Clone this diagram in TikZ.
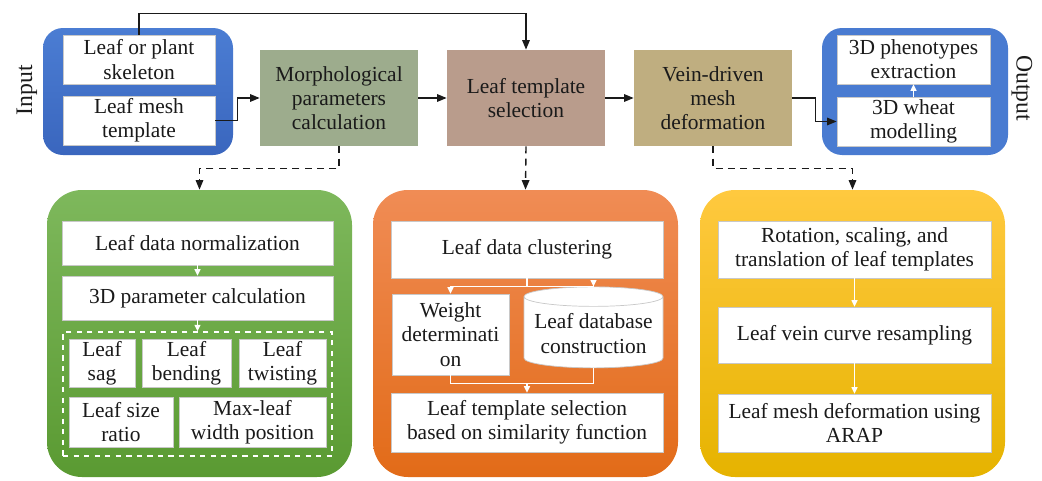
\documentclass[tikz,border=0pt]{standalone}
\usepackage{fontspec}
\setmainfont{LiberationSerif}[Extension=.ttf,UprightFont=*-Regular,BoldFont=*-Bold,ItalicFont=*-Italic]
\usetikzlibrary{arrows.meta,positioning,shapes.geometric}
\definecolor{iotop}{HTML}{4B7DD3}
\definecolor{iobot}{HTML}{3A66BE}
\definecolor{morphgreen}{HTML}{9DAC8D}
\definecolor{selbrown}{HTML}{B99C8C}
\definecolor{veinkhaki}{HTML}{BFAE80}
\definecolor{greentop}{HTML}{7EB85C}
\definecolor{greenbot}{HTML}{5A9A32}
\definecolor{orangetop}{HTML}{F08C55}
\definecolor{orangebot}{HTML}{E26B18}
\definecolor{goldtop}{HTML}{FFC93F}
\definecolor{goldbot}{HTML}{E6B300}
\definecolor{edgegray}{HTML}{C8C8C8}
\definecolor{ink}{HTML}{1A1A1A}
\newcommand{\boxfont}{\rmfamily\fontsize{12.2}{13.8}\selectfont}
\tikzset{
  stage/.style={
    align=center,
    inner sep=2pt,
    font=\boxfont,
    text=ink,
    minimum width=3.16cm,
    minimum height=1.92cm
  },
  wbox/.style={
    fill=white,
    draw=edgegray,
    line width=0.4pt,
    align=center,
    inner sep=1pt,
    font=\boxfont,
    text=ink
  },
  ioframe/.style={
    rounded corners=0.4cm,
    minimum height=2.54cm
  },
  panel/.style={
    rounded corners=0.7cm,
    minimum width=6.10cm,
    minimum height=5.74cm
  },
  sidelabel/.style={
    font=\rmfamily\fontsize{13.5}{15}\selectfont,
    text=ink,
    inner sep=0pt
  },
  arrow/.style={
    -{Triangle[length=1.9mm,width=1.5mm]},
    draw=ink,
    line width=0.8pt
  },
  dasharrow/.style={
    arrow,
    dash pattern=on 4pt off 3pt
  },
  wline/.style={
    draw=white,
    line width=0.7pt
  },
  warrow/.style={
    wline,
    -{Triangle[length=1.3mm,width=1.2mm]}
  }
}

\begin{document}
\begin{tikzpicture}[x=1cm,y=1cm]
  \useasboundingbox (0,0) rectangle (20.84,9.6);

  % input / output
  \node[ioframe, minimum width=3.80cm, top color=iotop, bottom color=iobot] (inputgroup) at (2.76,7.77) {};
  \node[wbox, minimum width=3.04cm, minimum height=0.98cm] (skel) at (2.78,8.41)
    {Leaf or plant\\skeleton};
  \node[wbox, minimum width=3.04cm, minimum height=0.98cm] (mesh) at (2.78,7.19)
    {Leaf mesh\\template};
  \node[sidelabel, rotate=90] (inlabel) at (0.54,7.80) {Input};

  \node[ioframe, minimum width=3.72cm, fill=iotop!90!iobot] (outputgroup) at (18.30,7.77) {};
  \node[wbox, minimum width=3.06cm, minimum height=0.98cm] (pheno) at (18.27,8.41)
    {3D phenotypes\\extraction};
  \node[wbox, minimum width=3.06cm, minimum height=0.98cm] (model) at (18.27,7.17)
    {3D wheat\\modelling};
  \node[sidelabel, rotate=-90] (outlabel) at (20.44,7.84) {Output};

  % main stages
  \node[stage, fill=morphgreen] (morph) at (6.78,7.64)
    {Morphological\\parameters\\calculation};
  \node[stage, fill=selbrown] (tmpl) at (10.52,7.64)
    {Leaf template\\selection};
  \node[stage, fill=veinkhaki] (vein) at (14.26,7.64)
    {Vein-driven\\mesh\\deformation};

  \draw[arrow] (skel.north) -- ++(0,0.42) -| (tmpl.north);
  \draw[arrow] (mesh.east) -- ++(0.44,0) |- (morph.west);
  \draw[arrow] (morph.east) -- (tmpl.west);
  \draw[arrow] (tmpl.east) -- (vein.west);
  \draw[arrow] (vein.east) -- ++(0.46,0) |- (model.west);
  \draw[warrow] (model.north) -- (pheno.south);

  % morphological parameters panel
  \node[panel, top color=greentop, bottom color=greenbot] (morphpanel) at (3.99,2.93) {};
  \node[wbox, minimum width=5.42cm, minimum height=0.88cm] (norm) at (3.95,4.74)
    {Leaf data normalization};
  \node[wbox, minimum width=5.42cm, minimum height=0.88cm] (param) at (3.95,3.64)
    {3D parameter calculation};
  \node[draw=white, dashed, line width=0.8pt, minimum width=5.38cm, minimum height=2.48cm] (params) at (3.95,1.72) {};
  \node[wbox, minimum width=1.32cm, minimum height=0.94cm] (sag) at (2.04,2.33)
    {Leaf\\sag};
  \node[wbox, minimum width=1.78cm, minimum height=0.94cm] (bend) at (3.73,2.33)
    {Leaf\\bending};
  \node[wbox, minimum width=1.74cm, minimum height=0.94cm] (twist) at (5.65,2.33)
    {Leaf\\twisting};
  \node[wbox, minimum width=2.08cm, minimum height=1.00cm] (ratio) at (2.42,1.16)
    {Leaf size\\ratio};
  \node[wbox, minimum width=2.94cm, minimum height=1.00cm] (maxw) at (5.05,1.16)
    {Max-leaf\\width position};
  \draw[warrow] (norm.south) -- (param.north);
  \draw[warrow] (param.south) -- (params.north);

  % template selection panel
  \node[panel, top color=orangetop, bottom color=orangebot] (selpanel) at (10.51,2.93) {};
  \node[wbox, minimum width=5.44cm, minimum height=1.14cm] (clust) at (10.54,4.61)
    {Leaf data clustering};
  \node[wbox, minimum width=2.34cm, minimum height=1.62cm] (weight) at (9.01,2.91)
    {Weight\\determinati\\on};
  \node[wbox, cylinder, shape border rotate=90, aspect=0.16,
    minimum width=2.78cm, minimum height=1.62cm] (dbase) at (11.87,2.93)
    {Leaf database\\construction};
  \node[wbox, minimum width=5.44cm, minimum height=1.18cm] (select) at (10.54,1.15)
    {Leaf template selection\\based on similarity function};
  \path (clust.south) ++(0,-0.16) coordinate (split);
  \path (select.north) ++(0,0.18) coordinate (merge);
  \draw[wline] (clust.south) -- (split);
  \draw[warrow] (split) -| (weight.north);
  \draw[warrow] (split) -| (dbase.north);
  \draw[wline] (weight.south) |- (merge) -| (dbase.south);
  \draw[warrow] (merge) -- (select.north);

  % mesh deformation panel
  \node[panel, top color=goldtop, bottom color=goldbot] (deformpanel) at (17.05,2.93) {};
  \node[wbox, minimum width=5.46cm, minimum height=1.14cm] (rot) at (17.09,4.61)
    {Rotation, scaling, and\\translation of leaf templates};
  \node[wbox, minimum width=5.46cm, minimum height=1.12cm] (resamp) at (17.09,2.90)
    {Leaf vein curve resampling};
  \node[wbox, minimum width=5.46cm, minimum height=1.16cm] (arap) at (17.09,1.14)
    {Leaf mesh deformation using\\ARAP};
  \draw[warrow] (rot.south) -- (resamp.north);
  \draw[warrow] (resamp.south) -- (arap.north);

  % stage to panel links
  \draw[dasharrow] (morph.south) -- ++(0,-0.44) -| (morphpanel.north);
  \draw[dasharrow] (tmpl.south) -- (selpanel.north);
  \draw[dasharrow] (vein.south) -- ++(0,-0.44) -| (deformpanel.north);
\end{tikzpicture}
\end{document}
